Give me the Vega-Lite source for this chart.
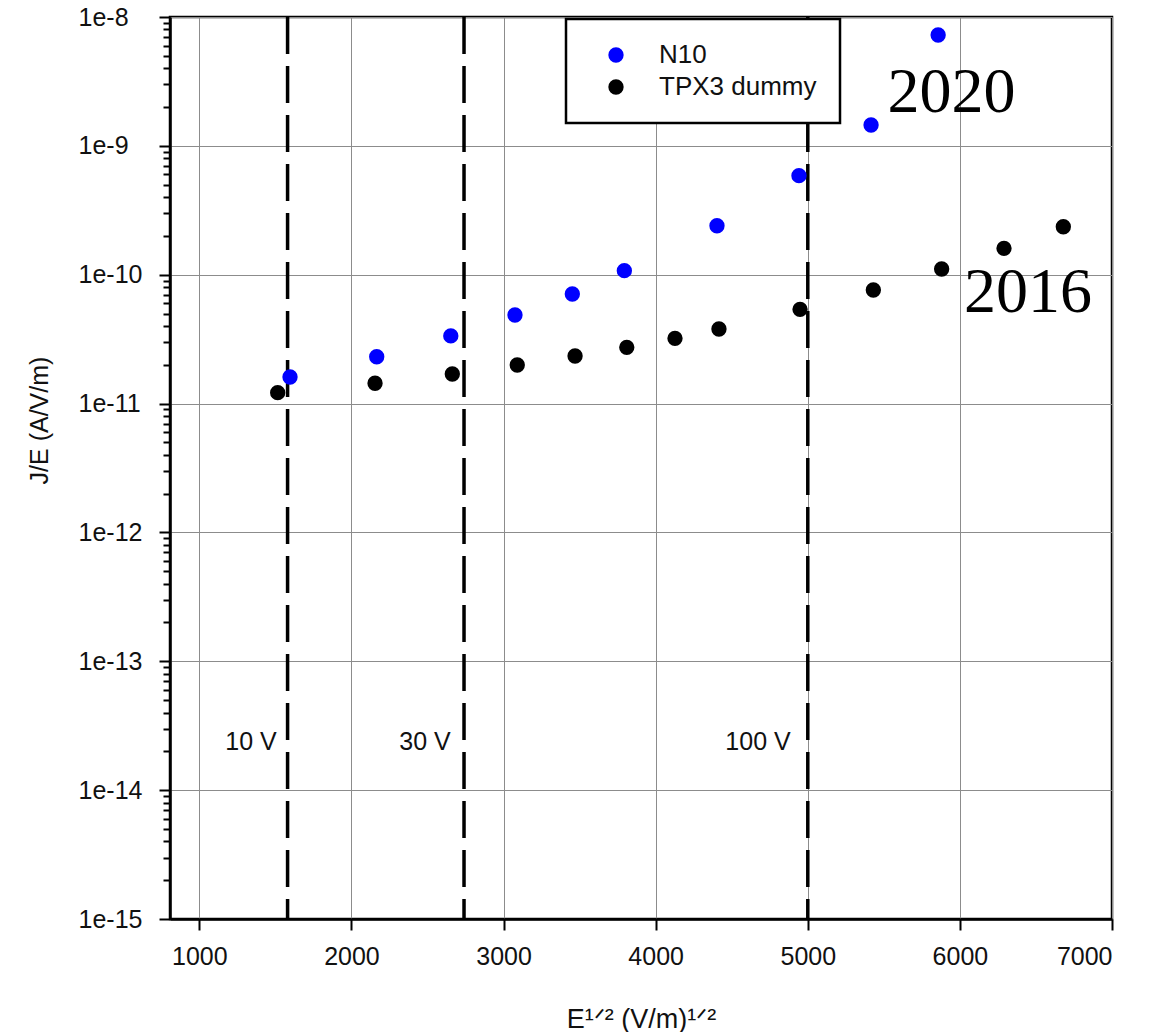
{
  "$schema": "https://vega.github.io/schema/vega-lite/v6.json",
  "width": 942,
  "height": 902,
  "autosize": "none",
  "padding": {"left": 170, "top": 17, "right": 56, "bottom": 113},
  "background": "white",
  "config": {
    "view": {"stroke": "black", "strokeWidth": 2.5},
    "font": "Liberation Sans",
    "legend": {"strokeWidth": 2.5},
    "axis": {
      "domainColor": "black",
      "domainWidth": 2.5,
      "tickColor": "black",
      "tickWidth": 2,
      "gridColor": "#8c8c8c",
      "gridWidth": 1,
      "labelFont": "Liberation Sans",
      "labelFontSize": 25,
      "labelColor": "#111111",
      "titleFont": "Liberation Sans",
      "titleFontSize": 27,
      "titleFontWeight": "normal",
      "titleColor": "#111111"
    }
  },
  "layer": [
    {
      "data": {"values": [
        {"voltage": "10 V", "x": 1580},
        {"voltage": "30 V", "x": 2740},
        {"voltage": "100 V", "x": 5000}
      ]},
      "mark": {"type": "rule", "strokeDash": [37, 12], "strokeWidth": 3.5, "color": "black"},
      "encoding": {
        "x": {"field": "x", "type": "quantitative", "scale": {"domain": [807, 7000], "nice": false, "zero": false}}
      }
    },
    {
      "data": {"values": [
        {"series": "TPX3 dummy", "x": 1515, "y": 1.215e-11},
        {"series": "TPX3 dummy", "x": 2155, "y": 1.437e-11},
        {"series": "TPX3 dummy", "x": 2663, "y": 1.697e-11},
        {"series": "TPX3 dummy", "x": 3090, "y": 1.993e-11},
        {"series": "TPX3 dummy", "x": 3470, "y": 2.339e-11},
        {"series": "TPX3 dummy", "x": 3810, "y": 2.733e-11},
        {"series": "TPX3 dummy", "x": 4127, "y": 3.21e-11},
        {"series": "TPX3 dummy", "x": 4416, "y": 3.79e-11},
        {"series": "TPX3 dummy", "x": 4949, "y": 5.39e-11},
        {"series": "TPX3 dummy", "x": 5431, "y": 7.61e-11},
        {"series": "TPX3 dummy", "x": 5880, "y": 1.108e-10},
        {"series": "TPX3 dummy", "x": 6290, "y": 1.603e-10},
        {"series": "TPX3 dummy", "x": 6680, "y": 2.358e-10},
        {"series": "N10", "x": 1596, "y": 1.607e-11},
        {"series": "N10", "x": 2166, "y": 2.31e-11},
        {"series": "N10", "x": 2653, "y": 3.35e-11},
        {"series": "N10", "x": 3075, "y": 4.87e-11},
        {"series": "N10", "x": 3452, "y": 7.09e-11},
        {"series": "N10", "x": 3794, "y": 1.075e-10},
        {"series": "N10", "x": 4403, "y": 2.40e-10},
        {"series": "N10", "x": 4942, "y": 5.87e-10},
        {"series": "N10", "x": 5416, "y": 1.452e-9},
        {"series": "N10", "x": 5857, "y": 7.25e-9}
      ]},
      "mark": {"type": "point", "shape": "circle", "filled": true, "size": 235, "opacity": 1},
      "encoding": {
        "x": {
          "field": "x", "type": "quantitative",
          "scale": {"domain": [807, 7000], "nice": false, "zero": false},
          "axis": {
            "values": [1000, 2000, 3000, 4000, 5000, 6000, 7000],
            "format": "d",
            "tickSize": 11,
            "labelPadding": 14,
            "grid": true,
            "title": "E¹ᐟ² (V/m)¹ᐟ²",
            "titleY": 108,
            "titleBaseline": "alphabetic"
          }
        },
        "y": {
          "field": "y", "type": "quantitative",
          "scale": {"type": "log", "domain": [1e-15, 1e-8], "nice": false},
          "axis": {
            "values": [1e-15, 2e-15, 3e-15, 4e-15, 5e-15, 6e-15, 7e-15, 8e-15, 9e-15,
                       1e-14, 2e-14, 3e-14, 4e-14, 5e-14, 6e-14, 7e-14, 8e-14, 9e-14,
                       1e-13, 2e-13, 3e-13, 4e-13, 5e-13, 6e-13, 7e-13, 8e-13, 9e-13,
                       1e-12, 2e-12, 3e-12, 4e-12, 5e-12, 6e-12, 7e-12, 8e-12, 9e-12,
                       1e-11, 2e-11, 3e-11, 4e-11, 5e-11, 6e-11, 7e-11, 8e-11, 9e-11,
                       1e-10, 2e-10, 3e-10, 4e-10, 5e-10, 6e-10, 7e-10, 8e-10, 9e-10,
                       1e-9, 2e-9, 3e-9, 4e-9, 5e-9, 6e-9, 7e-9, 8e-9, 9e-9, 1e-8],
            "labelExpr": "abs(log(datum.value)/LN10 - round(log(datum.value)/LN10)) < 0.001 ? '1e' + round(log(datum.value)/LN10) : ''",
            "tickSize": {"condition": {"test": "abs(log(datum.value)/LN10 - round(log(datum.value)/LN10)) < 0.001", "value": 11}, "value": 7},
            "gridOpacity": {"condition": {"test": "abs(log(datum.value)/LN10 - round(log(datum.value)/LN10)) < 0.001", "value": 1}, "value": 0},
            "grid": true,
            "labelAlign": "left",
            "labelPadding": 81,
            "title": "J/E (A/V/m)",
            "titleFontSize": 25,
            "titleX": -131,
            "titleY": 403,
            "titleAngle": 270,
            "titleAlign": "center",
            "titleBaseline": "middle"
          }
        },
        "color": {
          "field": "series", "type": "nominal",
          "scale": {"domain": ["N10", "TPX3 dummy"], "range": ["#0000ff", "#000000"]},
          "legend": {
            "orient": "none",
            "legendX": 396,
            "legendY": 2,
            "title": null,
            "strokeColor": "black",
            "fillColor": "white",
            "padding": 23,
            "symbolOffset": 14,
            "symbolSize": 235,
            "symbolType": "circle",
            "symbolStrokeWidth": 0,
            "labelFont": "Liberation Sans",
            "labelFontSize": 26,
            "labelColor": "#111111",
            "labelOffset": 30,
            "rowPadding": 6
          }
        }
      }
    },
    {
      "data": {"values": [
        {"label": "10 V", "x": 1340, "y": 2.05e-14},
        {"label": "30 V", "x": 2484, "y": 2.05e-14},
        {"label": "100 V", "x": 4673, "y": 2.05e-14}
      ]},
      "mark": {"type": "text", "font": "Liberation Sans", "fontSize": 25, "align": "center", "baseline": "alphabetic", "color": "#111111"},
      "encoding": {
        "x": {"field": "x", "type": "quantitative"},
        "y": {"field": "y", "type": "quantitative"},
        "text": {"field": "label"}
      }
    },
    {
      "data": {"values": [
        {"label": "2020", "x": 5945, "y": 1.832e-9},
        {"label": "2016", "x": 6448, "y": 5.16e-11}
      ]},
      "mark": {"type": "text", "font": "Liberation Serif", "fontSize": 64, "align": "center", "baseline": "alphabetic", "color": "black"},
      "encoding": {
        "x": {"field": "x", "type": "quantitative"},
        "y": {"field": "y", "type": "quantitative"},
        "text": {"field": "label"}
      }
    }
  ]
}
